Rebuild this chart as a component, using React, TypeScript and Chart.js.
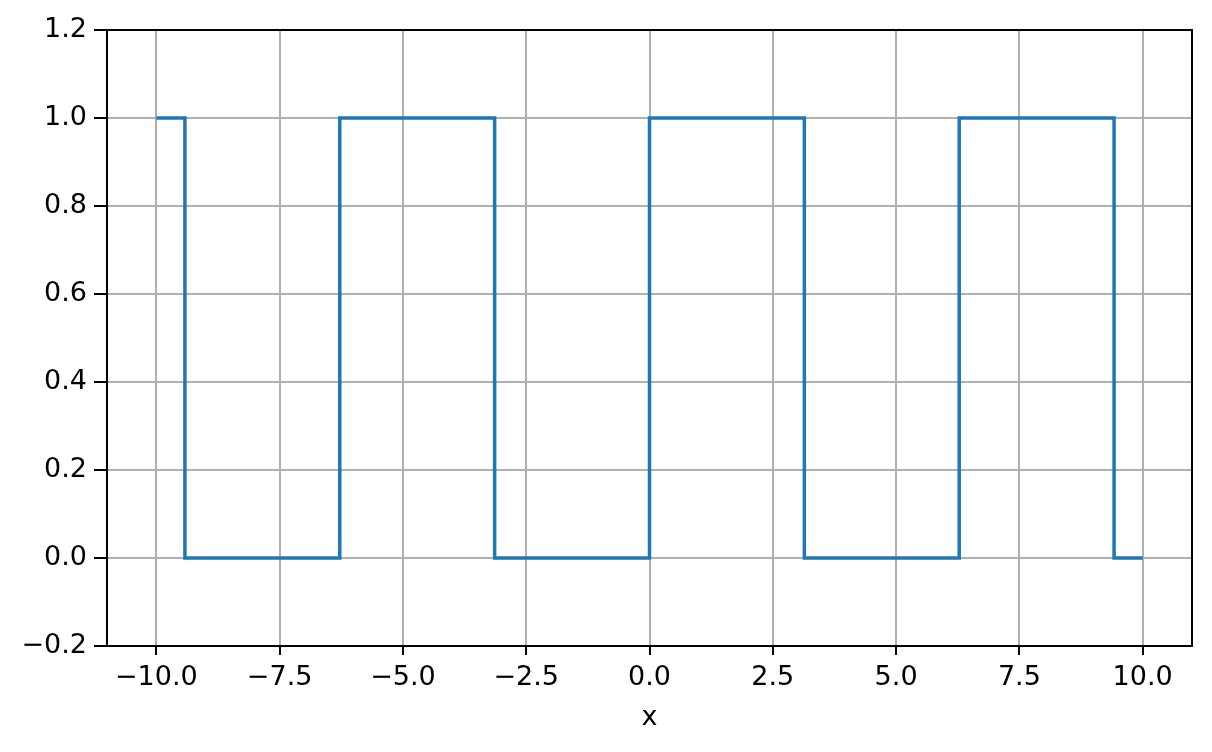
import { useEffect, useRef } from 'react'
import { Chart, registerables, Plugin } from 'chart.js'

Chart.register(...registerables)

// square wave: points at each jump
const waveX = [-10, -9.42, -9.42, -6.28, -6.28, -3.14, -3.14, 0, 0, 3.14, 3.14, 6.28, 6.28, 9.42, 9.42, 10]
const waveY = [1, 1, 0, 0, 1, 1, 0, 0, 1, 1, 0, 0, 1, 1, 0, 0]

const xTicks = [-10, -7.5, -5, -2.5, 0, 2.5, 5, 7.5, 10]
const yTicks = [-0.2, 0, 0.2, 0.4, 0.6, 0.8, 1.0, 1.2]

const fmt = (v: number) => v.toFixed(1).replace('-', '\u2212')

// matplotlib-like box around the plot area
const frame: Plugin = {
  id: 'frame',
  afterDraw(chart) {
    const { ctx, chartArea } = chart
    ctx.save()
    ctx.strokeStyle = '#000'
    ctx.lineWidth = 2
    ctx.strokeRect(chartArea.left, chartArea.top, chartArea.right - chartArea.left, chartArea.bottom - chartArea.top)
    ctx.restore()
  },
}

export default function App() {
  const canvasRef = useRef<HTMLCanvasElement>(null)

  useEffect(() => {
    document.body.style.margin = '0'
    if (!canvasRef.current) return
    Chart.defaults.font.family = '"DejaVu Sans", sans-serif'
    Chart.defaults.color = '#000'

    const chart = new Chart(canvasRef.current, {
      type: 'line',
      data: {
        datasets: [
          {
            data: waveX.map((x, i) => ({ x, y: waveY[i] })),
            borderColor: '#1f77b4',
            borderWidth: 3.5,
            pointRadius: 0,
            tension: 0,
            fill: false,
          },
        ],
      },
      options: {
        responsive: false,
        animation: false,
        devicePixelRatio: 1,
        layout: { padding: { left: 0, top: 30, right: 20, bottom: 0 } },
        plugins: { legend: { display: false }, tooltip: { enabled: false } },
        scales: {
          x: {
            type: 'linear',
            min: -11,
            max: 11,
            afterBuildTicks: (scale) => {
              scale.ticks = xTicks.map((value) => ({ value }))
            },
            afterFit: (scale) => {
              scale.height = 106
            },
            ticks: { font: { size: 27 }, padding: 7, maxRotation: 0, callback: (v) => fmt(Number(v)) },
            grid: { color: '#b0b0b0', lineWidth: 2, tickColor: '#000', tickLength: 9, tickWidth: 2 },
            border: { color: '#000', width: 2 },
            title: { display: true, text: 'x', font: { size: 27 }, padding: { top: 0, bottom: 18 } },
          },
          y: {
            min: -0.2,
            max: 1.2,
            afterBuildTicks: (scale) => {
              scale.ticks = yTicks.map((value) => ({ value }))
            },
            afterFit: (scale) => {
              scale.width = 107
            },
            ticks: { font: { size: 27 }, padding: 7, callback: (v) => fmt(Number(v)) },
            grid: { color: '#b0b0b0', lineWidth: 2, tickColor: '#000', tickLength: 13, tickWidth: 2 },
            border: { color: '#000', width: 2 },
          },
        },
      },
      plugins: [frame],
    })

    return () => chart.destroy()
  }, [])

  return <canvas ref={canvasRef} width={1212} height={752} style={{ display: 'block' }} />
}
